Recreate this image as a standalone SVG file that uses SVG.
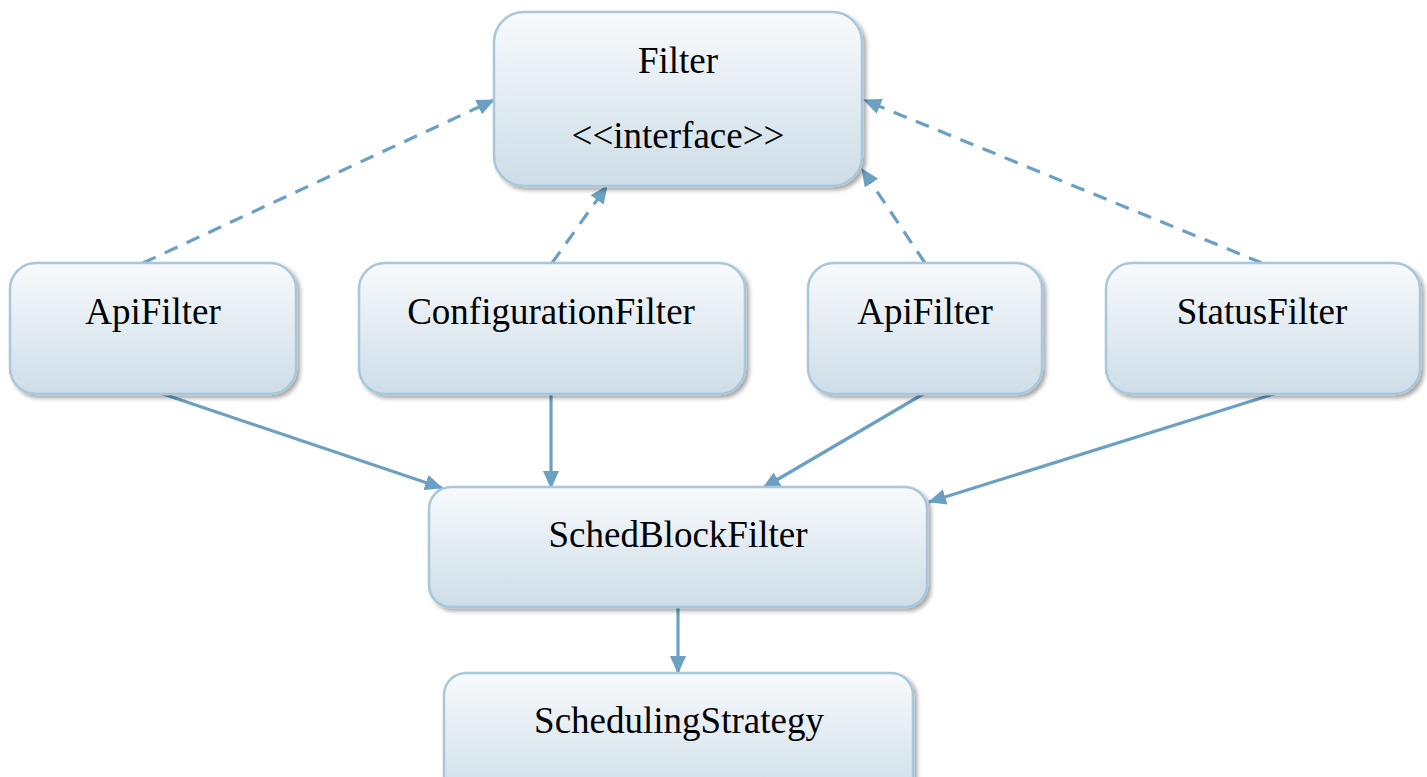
<svg xmlns="http://www.w3.org/2000/svg" width="1427" height="777" viewBox="0 0 1427 777">
<defs>
<linearGradient id="g" x1="0" y1="0" x2="0" y2="1">
<stop offset="0" stop-color="#f8fafc"/>
<stop offset="1" stop-color="#cddde8"/>
</linearGradient>
<filter id="sh" x="-5%" y="-5%" width="115%" height="120%">
<feGaussianBlur in="SourceAlpha" stdDeviation="2"/>
<feOffset dx="3" dy="3" result="b"/>
<feComponentTransfer><feFuncA type="linear" slope="0.35"/></feComponentTransfer>
<feMerge><feMergeNode/><feMergeNode in="SourceGraphic"/></feMerge>
</filter>
<marker id="ah" markerWidth="18" markerHeight="16" viewBox="0 0 18 16" refX="17" refY="8" orient="auto" markerUnits="userSpaceOnUse">
<path d="M0,0 L18,8 L0,16 Z" fill="#6aa0c2"/>
</marker>
</defs>
<style>
.box{fill:url(#g);stroke:#a9c7da;stroke-width:2.5;filter:url(#sh)}
.t{font-family:"Liberation Serif","Times New Roman",serif;font-size:37px;fill:#000;text-anchor:middle}
.c{stroke:#6aa0c2;stroke-width:3.2;fill:none;marker-end:url(#ah)}
.d{stroke-dasharray:14,10}
</style>
<rect width="1427" height="777" fill="#fff"/>
<g id="connectors">
<line class="c d" x1="143" y1="263" x2="494" y2="100"/>
<line class="c d" x1="552" y1="263" x2="607" y2="186"/>
<line class="c d" x1="925" y1="263" x2="862" y2="169"/>
<line class="c d" x1="1262" y1="263" x2="864" y2="100"/>
<line class="c" x1="160" y1="393" x2="442" y2="488"/>
<line class="c" x1="551" y1="393" x2="551" y2="488"/>
<line class="c" x1="925" y1="393" x2="763" y2="488"/>
<line class="c" x1="1277" y1="393" x2="929" y2="502"/>
<line class="c" x1="678" y1="607" x2="678" y2="673"/>
</g>
<g id="filter">
<rect class="box" x="494" y="12" width="368" height="174" rx="30"/>
<text class="t" x="678" y="73">Filter</text>
<text class="t" x="678" y="148">&lt;&lt;interface&gt;&gt;</text>
</g>
<g id="apifilter1">
<rect class="box" x="10" y="263" width="286" height="131" rx="26"/>
<text class="t" x="153" y="324">ApiFilter</text>
</g>
<g id="configurationfilter">
<rect class="box" x="359" y="263" width="386" height="131" rx="26"/>
<text class="t" x="551" y="324">ConfigurationFilter</text>
</g>
<g id="apifilter2">
<rect class="box" x="808" y="263" width="234" height="131" rx="26"/>
<text class="t" x="925" y="324">ApiFilter</text>
</g>
<g id="statusfilter">
<rect class="box" x="1106" y="263" width="314" height="131" rx="26"/>
<text class="t" x="1262" y="324">StatusFilter</text>
</g>
<g id="schedblockfilter">
<rect class="box" x="429" y="487" width="498" height="120" rx="22"/>
<text class="t" x="678" y="547">SchedBlockFilter</text>
</g>
<g id="schedulingstrategy">
<rect class="box" x="444" y="673" width="469" height="130" rx="22"/>
<text class="t" x="679" y="733">SchedulingStrategy</text>
</g>
</svg>
